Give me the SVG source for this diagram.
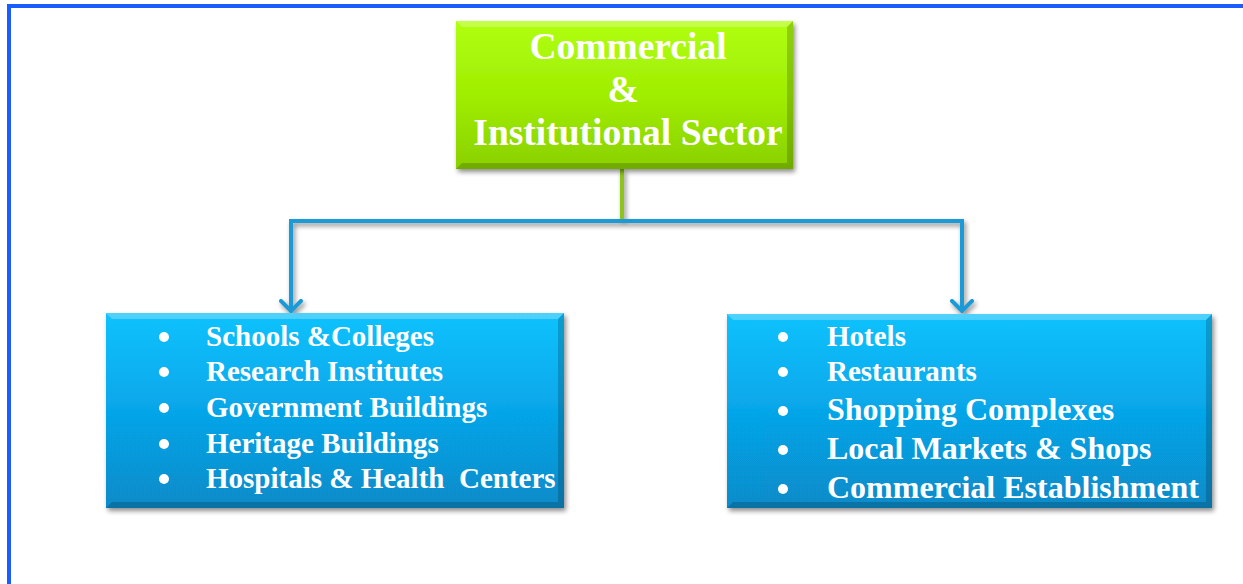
<svg xmlns="http://www.w3.org/2000/svg" width="1243" height="584" viewBox="0 0 1243 584">
  <defs>
    <linearGradient id="gGreen" x1="0" y1="0" x2="0" y2="1">
      <stop offset="0" stop-color="#b0ff0c"/>
      <stop offset="0.5" stop-color="#a0ee04"/>
      <stop offset="1" stop-color="#8ad000"/>
    </linearGradient>
    <linearGradient id="gBlue" x1="0" y1="0" x2="0" y2="1">
      <stop offset="0" stop-color="#12c2fd"/>
      <stop offset="0.5" stop-color="#06a6e9"/>
      <stop offset="1" stop-color="#078bc9"/>
    </linearGradient>
    <filter id="shadow" x="-5%" y="-5%" width="112%" height="115%">
      <feGaussianBlur in="SourceAlpha" stdDeviation="2.5"/>
      <feOffset dx="2" dy="3" result="b"/>
      <feComponentTransfer><feFuncA type="linear" slope="0.45"/></feComponentTransfer>
      <feMerge><feMergeNode/><feMergeNode in="SourceGraphic"/></feMerge>
    </filter>
    <!-- open chevron arrowhead, drawn along +x so orient="auto" turns it with the line -->
    <marker id="arrow" viewBox="0 0 14 24" refX="12" refY="12" markerWidth="14" markerHeight="24" markerUnits="userSpaceOnUse" orient="auto">
      <path d="M2,2 L12,12 L2,22" fill="none" stroke="#1a9ad6" stroke-width="4" stroke-linecap="round" stroke-linejoin="round"/>
    </marker>
  </defs>
  <style>
    .frame { fill: none; stroke: #1a5cff; stroke-width: 4; }
    .title { font-family: "Liberation Serif", "Times New Roman", serif; font-weight: bold; font-size: 37.5px; fill: #ffffff; text-anchor: middle; }
    .item { font-family: "Liberation Serif", "Times New Roman", serif; font-weight: bold; font-size: 29px; fill: #ffffff; }
    .big { font-size: 32px; }
    .bullet { fill: #ffffff; }
    .link { fill: none; stroke: #1a9ad6; stroke-width: 4; stroke-linejoin: miter; }
    .stem { fill: none; stroke: #8cc41c; stroke-width: 4; }
    .hi { fill: #ffffff; opacity: 0.25; }
    .lo { fill: #000000; opacity: 0.18; }
  </style>

  <rect width="1243" height="584" fill="#ffffff"/>
  <!-- page frame: top and left rules -->
  <path class="frame" d="M9,584 L9,6 L1243,6"/>

  <!-- connectors -->
  <g id="connectors" filter="url(#shadow)">
    <line class="stem" x1="622" y1="169" x2="622" y2="221"/>
    <path class="link" d="M622,221 L291,221 L291,311" marker-end="url(#arrow)"/>
    <path class="link" d="M622,221 L962,221 L962,311" marker-end="url(#arrow)"/>
  </g>

  <!-- root node -->
  <g id="node-root">
    <rect x="456" y="21" width="337" height="148" fill="url(#gGreen)" filter="url(#shadow)"/>
    <polygon class="hi" points="456,21 793,21 787,27 462,27"/>
    <polygon class="lo" points="456,169 793,169 787,163 462,163"/>
    <polygon class="lo" points="793,21 793,169 787,163 787,27"/>
    <text class="title" x="628" y="59">Commercial</text>
    <text class="title" x="623" y="102">&amp;</text>
    <text class="title" x="628" y="145">Institutional Sector</text>
  </g>

  <!-- institutional node -->
  <g id="node-institutional">
    <rect x="106" y="313" width="458" height="195" fill="url(#gBlue)" filter="url(#shadow)"/>
    <polygon class="hi" points="106,313 564,313 558,319 112,319"/>
    <polygon class="lo" points="106,508 564,508 558,502 112,502"/>
    <polygon class="lo" points="564,313 564,508 558,502 558,319"/>
    <g class="bullet">
      <circle cx="164" cy="337" r="5"/>
      <circle cx="164" cy="372" r="5"/>
      <circle cx="164" cy="408" r="5"/>
      <circle cx="164" cy="444" r="5"/>
      <circle cx="164" cy="479" r="5"/>
    </g>
    <g class="item">
      <text x="206" y="346">Schools &amp;Colleges</text>
      <text x="206" y="381">Research Institutes</text>
      <text x="206" y="417">Government Buildings</text>
      <text x="206" y="453">Heritage Buildings</text>
      <text x="206" y="488" xml:space="preserve">Hospitals &amp; Health  Centers</text>
    </g>
  </g>

  <!-- commercial node -->
  <g id="node-commercial">
    <rect x="727" y="314" width="485" height="194" fill="url(#gBlue)" filter="url(#shadow)"/>
    <polygon class="hi" points="727,314 1212,314 1206,320 733,320"/>
    <polygon class="lo" points="727,508 1212,508 1206,502 733,502"/>
    <polygon class="lo" points="1212,314 1212,508 1206,502 1206,320"/>
    <g class="bullet">
      <circle cx="783" cy="337" r="5"/>
      <circle cx="783" cy="372" r="5"/>
      <circle cx="783" cy="411" r="5"/>
      <circle cx="783" cy="450" r="5"/>
      <circle cx="783" cy="489" r="5"/>
    </g>
    <g class="item">
      <text x="827" y="346">Hotels</text>
      <text x="827" y="381">Restaurants</text>
      <text class="big" x="827" y="420">Shopping Complexes</text>
      <text class="big" x="827" y="459">Local Markets &amp; Shops</text>
      <text class="big" x="827" y="498">Commercial Establishment</text>
    </g>
  </g>
</svg>
